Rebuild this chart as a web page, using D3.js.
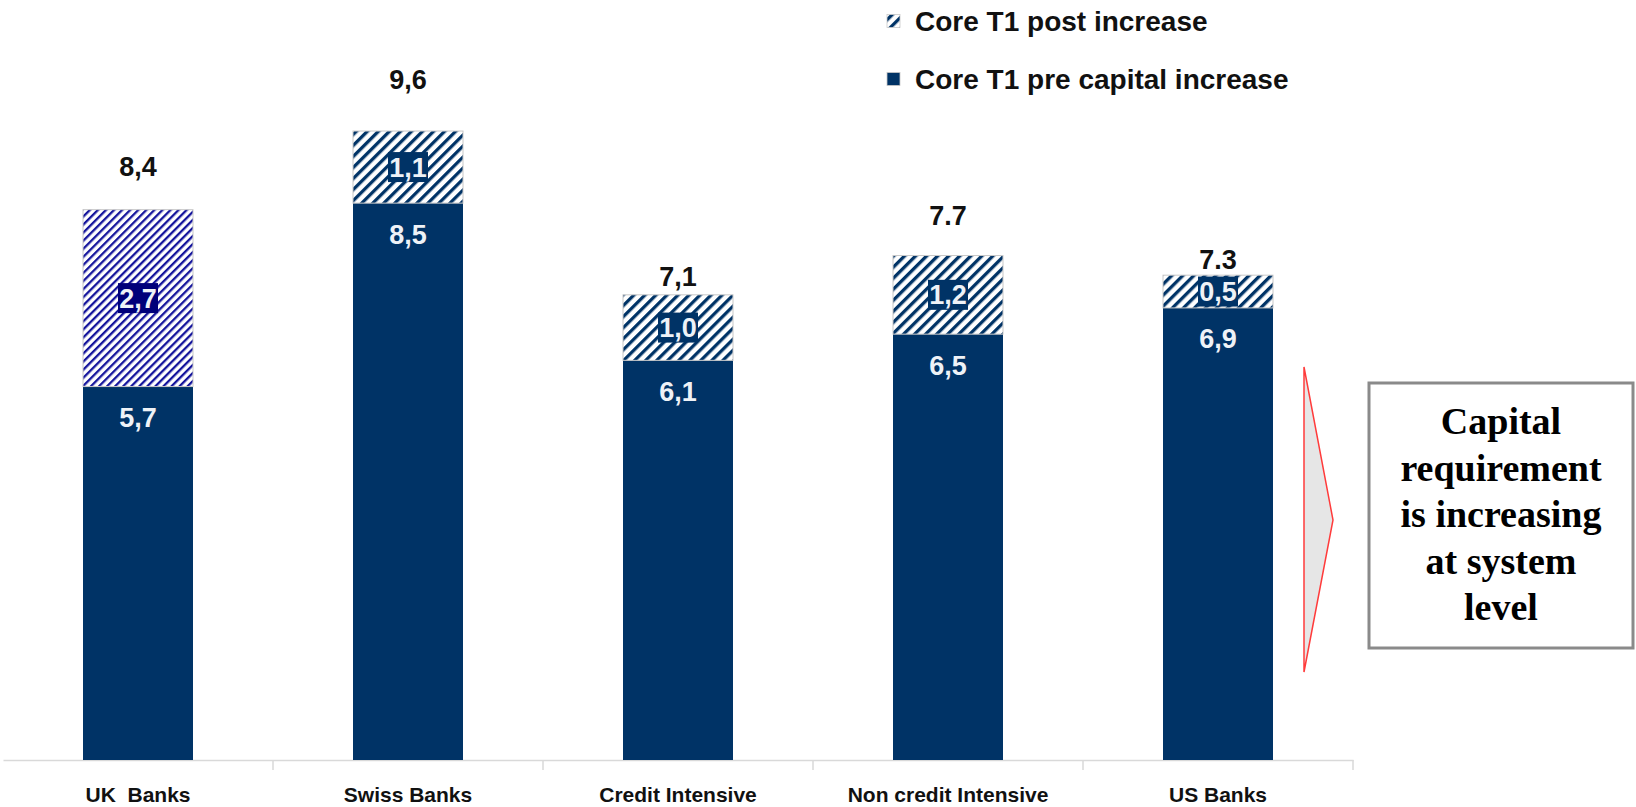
<!DOCTYPE html>
<html>
<head>
<meta charset="utf-8">
<script src="https://cdn.jsdelivr.net/npm/d3@7"></script>
<style>
  html, body { margin: 0; padding: 0; background: #ffffff; }
  svg { display: block; }
</style>
</head>
<body>
<svg id="chart" width="1636" height="807"></svg>
<script>
// ---------- data ----------
const categories = ["UK  Banks", "Swiss Banks", "Credit Intensive", "Non credit Intensive", "US Banks"];
const preValues = [5.7, 8.5, 6.1, 6.5, 6.9];
const postValues = [2.7, 1.1, 1.0, 1.2, 0.5];
const preLabels = ["5,7", "8,5", "6,1", "6,5", "6,9"];
const postLabels = ["2,7", "1,1", "1,0", "1,2", "0,5"];
const totalLabels = ["8,4", "9,6", "7,1", "7.7", "7.3"];
const seriesNames = ["Core T1 post increase", "Core T1 pre capital increase"];
const calloutLines = ["Capital", "requirement", "is increasing", "at system", "level"];

// ---------- layout (not data) ----------
const totalLabelGap = [43, 51, 18, 40, 16];
const W = 1636, H = 807;
const navy = "#003366";

const svg = d3.select("#chart");
svg.append("rect").attr("width", W).attr("height", H).attr("fill", "#fff");

const defs = svg.append("defs");
function hatch(id, color, period, stripe) {
  const p = defs.append("pattern").attr("id", id)
    .attr("patternUnits", "userSpaceOnUse")
    .attr("width", period).attr("height", period)
    .attr("patternTransform", "rotate(45)");
  p.append("rect").attr("width", period).attr("height", period).attr("fill", "#fff");
  p.append("rect").attr("width", stripe).attr("height", period).attr("fill", color);
}
hatch("hatchNavy", navy, 7.8, 3.3);
hatch("hatchBlue", "#14149c", 5.7, 2.3);

const data = categories.map((c, i) => ({
  cat: c, pre: preValues[i], post: postValues[i], total: preValues[i] + postValues[i],
  preLabel: preLabels[i], postLabel: postLabels[i], totalLabel: totalLabels[i], gap: totalLabelGap[i], i
}));

const x = d3.scaleBand().domain(categories).range([3, 1353])
  .paddingInner(160 / 270).paddingOuter(80 / 270);
const y = d3.scaleLinear().domain([0, 11.6]).range([760, 0]);

// axis
const axisG = svg.append("g").attr("transform", `translate(0,${y(0)})`)
  .call(d3.axisBottom(x).tickSize(0).tickPadding(0));
axisG.select(".domain").attr("stroke", "#d9d9d9").attr("stroke-width", 1.5);
axisG.selectAll(".tick text")
  .attr("y", 42).attr("dy", null)
  .attr("font-family", "'Liberation Sans Narrow', 'Arial Narrow', 'Liberation Sans', sans-serif")
  .attr("font-weight", "bold").attr("font-size", 21).attr("fill", "#111")
  .style("white-space", "pre");
const boundaries = categories.slice(1).map(c => x(c) - x.step() * x.paddingInner() / 2);
boundaries.push(x.range()[1]);
axisG.selectAll(".bnd").data(boundaries).enter().append("line")
  .attr("x1", d => d).attr("x2", d => d).attr("y1", 0).attr("y2", 10)
  .attr("stroke", "#d9d9d9").attr("stroke-width", 1.5);

// bars
const bars = svg.append("g").selectAll("g").data(data).enter().append("g");
bars.append("rect")
  .attr("x", d => x(d.cat)).attr("width", x.bandwidth())
  .attr("y", d => y(d.pre)).attr("height", d => y(0) - y(d.pre))
  .attr("fill", navy);
bars.append("rect")
  .attr("x", d => x(d.cat)).attr("width", x.bandwidth())
  .attr("y", d => y(d.total)).attr("height", d => y(d.pre) - y(d.total))
  .attr("fill", d => d.i === 0 ? "url(#hatchBlue)" : "url(#hatchNavy)")
  .attr("stroke", "#c8c8c8").attr("stroke-width", 1);

const sans = "'Liberation Sans', Arial, Helvetica, sans-serif";
const labelSize = 27;
// pre labels
bars.append("text")
  .attr("x", d => x(d.cat) + x.bandwidth() / 2).attr("y", d => y(d.pre) + 31)
  .attr("dy", "0.35em").attr("text-anchor", "middle")
  .attr("font-family", sans).attr("font-weight", "bold").attr("font-size", labelSize)
  .attr("fill", "#eef2f7").text(d => d.preLabel);
// post label boxes + labels
bars.append("rect")
  .attr("x", d => x(d.cat) + x.bandwidth() / 2 - 20)
  .attr("y", d => (y(d.pre) + y(d.total)) / 2 - 15)
  .attr("width", 40).attr("height", 30)
  .attr("fill", d => d.i === 0 ? "#00007a" : navy);
bars.append("text")
  .attr("x", d => x(d.cat) + x.bandwidth() / 2).attr("y", d => (y(d.pre) + y(d.total)) / 2)
  .attr("dy", "0.35em").attr("text-anchor", "middle")
  .attr("font-family", sans).attr("font-weight", "bold").attr("font-size", labelSize)
  .attr("fill", "#eef2f7").text(d => d.postLabel);
// total labels
bars.append("text")
  .attr("x", d => x(d.cat) + x.bandwidth() / 2).attr("y", d => y(d.total) - d.gap)
  .attr("dy", "0.35em").attr("text-anchor", "middle")
  .attr("font-family", sans).attr("font-weight", "bold").attr("font-size", labelSize)
  .attr("fill", "#111").text(d => d.totalLabel);

// legend
const legend = svg.append("g");
const legendRows = [
  { name: seriesNames[0], fill: "url(#hatchNavy)", y: 21 },
  { name: seriesNames[1], fill: navy, y: 79 }
];
legendRows.forEach(r => {
  legend.append("rect").attr("x", 887).attr("y", r.y - 6.5).attr("width", 13).attr("height", 13)
    .attr("fill", r.fill).attr("stroke", "#c8c8c8").attr("stroke-width", 0.8);
  legend.append("text").attr("x", 915).attr("y", r.y).attr("dy", "0.35em")
    .attr("font-family", sans).attr("font-weight", "bold").attr("font-size", 28)
    .attr("fill", "#111").text(r.name);
});

// arrow
svg.append("polygon")
  .attr("points", "1304,367 1333,520 1304,672")
  .attr("fill", "#e6e6e6").attr("stroke", "#ff3b3b").attr("stroke-width", 1.5);

// callout box
svg.append("rect").attr("x", 1369).attr("y", 383).attr("width", 264).attr("height", 265)
  .attr("fill", "#fff").attr("stroke", "#8a8a8a").attr("stroke-width", 3);
svg.append("g").selectAll("text").data(calloutLines).enter().append("text")
  .attr("x", 1501).attr("y", (d, i) => 434 + i * 46.5)
  .attr("text-anchor", "middle")
  .attr("font-family", "'Liberation Serif', 'Times New Roman', serif")
  .attr("font-weight", "bold").attr("font-size", 38).attr("fill", "#000")
  .text(d => d);
</script>
</body>
</html>
